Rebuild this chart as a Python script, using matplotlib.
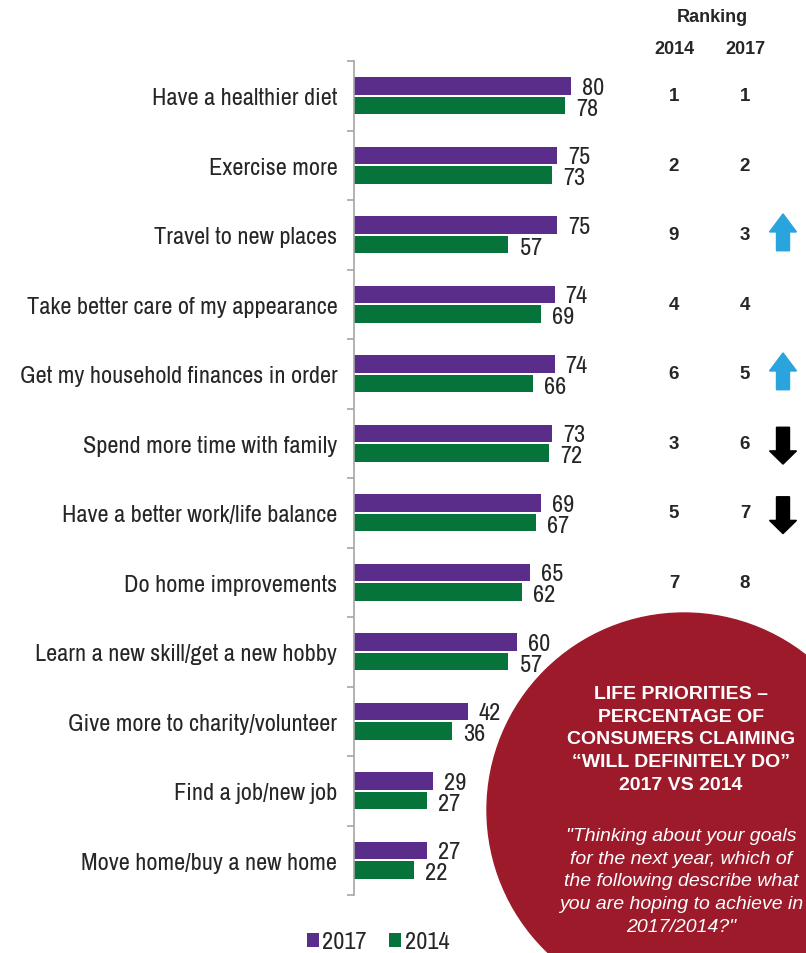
import matplotlib
matplotlib.use("Agg")
import matplotlib.pyplot as plt
import matplotlib.patches as mpatches
import matplotlib.transforms as mtransforms
from matplotlib import font_manager
import numpy as np

# ---- data ----
categories = [
    "Have a healthier diet",
    "Exercise more",
    "Travel to new places",
    "Take better care of my appearance",
    "Get my household finances in order",
    "Spend more time with family",
    "Have a better work/life balance",
    "Do home improvements",
    "Learn a new skill/get a new hobby",
    "Give more to charity/volunteer",
    "Find a job/new job",
    "Move home/buy a new home",
]
values_2017 = [80, 75, 75, 74, 74, 73, 69, 65, 60, 42, 29, 27]
values_2014 = [78, 73, 57, 69, 66, 72, 67, 62, 57, 36, 27, 22]
rank_2014 = [1, 2, 9, 4, 6, 3, 5, 7]
rank_2017 = [1, 2, 3, 4, 5, 6, 7, 8]
rank_moves = ["", "", "up", "", "up", "down", "down", ""]

title_text = ("LIFE PRIORITIES \u2013\nPERCENTAGE OF\nCONSUMERS CLAIMING\n"
              "\u201cWILL DEFINITELY DO\u201d\n2017 VS 2014")
question_text = ("\"Thinking about your goals\nfor the next year, which of\n"
                 "the following describe what\nyou are hoping to achieve in\n2017/2014?\"")

# ---- style ----
PURPLE = "#5b2d8a"
GREEN = "#05733a"
RED = "#9d1a2b"
BLUE = "#29a4dd"
TEXT = "#262626"

available = {f.name for f in font_manager.fontManager.ttflist}
narrow_choices = ["Liberation Sans Narrow", "Arial Narrow", "Archivo Narrow",
                  "PT Sans Narrow", "Roboto Condensed", "Arimo"]
narrow_font = next((f for f in narrow_choices if f in available), None)
if narrow_font is not None and narrow_font != "Arimo":
    NARROW = [narrow_font, "Liberation Sans"]
    LABEL_SIZE = 17.5
else:
    NARROW = ["Liberation Sans"]
    LABEL_SIZE = 14
BOLD = ["Liberation Sans", "DejaVu Sans"]

W, H = 806, 954
fig = plt.figure(figsize=(W / 100, H / 100), dpi=100)
fig.patch.set_facecolor("white")

ax_left, ax_right, ax_top, ax_bottom = 354, 625, 62, 896
ax = fig.add_axes([ax_left / W, 1 - ax_bottom / H, (ax_right - ax_left) / W, (ax_bottom - ax_top) / H])

y = np.arange(len(categories))
bar_h = 0.25
off = 0.14
ax.barh(y - off, values_2017, height=bar_h, color=PURPLE, label="2017")
ax.barh(y + off, values_2014, height=bar_h, color=GREEN, label="2014")

for yi, v in zip(y, values_2017):
    ax.annotate(str(v), (v, yi - off + 0.02), xytext=(8, 0), textcoords="offset points",
                ha="left", va="center", fontsize=LABEL_SIZE, family=NARROW, color=TEXT)
for yi, v in zip(y, values_2014):
    ax.annotate(str(v), (v, yi + off + 0.04), xytext=(8, 0), textcoords="offset points",
                ha="left", va="center", fontsize=LABEL_SIZE, family=NARROW, color=TEXT)

ax.set_xlim(0, 100)
ax.set_ylim(len(categories) - 0.5, -0.5)
for s in ["top", "right", "bottom"]:
    ax.spines[s].set_visible(False)
ax.spines["left"].set_color("#a6a6a6")
ax.spines["left"].set_linewidth(1.2)
ax.set_xticks([])
ax.set_yticks(np.arange(len(categories) + 1) - 0.5)
ax.set_yticklabels([])
ax.tick_params(axis="y", which="major", length=5, color="#a6a6a6", width=1.2)
ax.set_yticks(y, minor=True)
ax.set_yticklabels(categories, minor=True, fontsize=LABEL_SIZE, family=NARROW, color=TEXT)
ax.tick_params(axis="y", which="minor", length=0, pad=12)

# ---- ranking columns ----
blend = mtransforms.blended_transform_factory(fig.transFigure, ax.transData)
x14, x17, xarrow = 674 / W, 745 / W, 783 / W
fig.text(712 / W, 1 - 18 / H, "Ranking", ha="center", va="center", fontsize=13,
         fontweight="bold", family=BOLD, color=TEXT)
fig.text(x14, 1 - 50 / H, "2014", ha="center", va="center", fontsize=13,
         fontweight="bold", family=BOLD, color=TEXT)
fig.text(x17, 1 - 50 / H, "2017", ha="center", va="center", fontsize=13,
         fontweight="bold", family=BOLD, color=TEXT)
for i, (r14, r17) in enumerate(zip(rank_2014, rank_2017)):
    ax.text(x14, i, str(r14), transform=blend, ha="center", va="center", fontsize=13.5,
            fontweight="bold", family=BOLD, color=TEXT, clip_on=False)
    ax.text(x17, i, str(r17), transform=blend, ha="center", va="center", fontsize=13.5,
            fontweight="bold", family=BOLD, color=TEXT, clip_on=False)

hw, sw = 13.5 / W, 6.5 / W
for i, move in enumerate(rank_moves):
    if move == "up":
        pts = [(xarrow, i - 0.30), (xarrow + hw, i - 0.04), (xarrow + sw, i - 0.04),
               (xarrow + sw, i + 0.23), (xarrow - sw, i + 0.23), (xarrow - sw, i - 0.04),
               (xarrow - hw, i - 0.04)]
        color = BLUE
    elif move == "down":
        pts = [(xarrow, i + 0.30), (xarrow + hw, i + 0.11), (xarrow + sw, i + 0.11),
               (xarrow + sw, i - 0.23), (xarrow - sw, i - 0.23), (xarrow - sw, i + 0.11),
               (xarrow - hw, i + 0.11)]
        color = "black"
    else:
        continue
    ax.add_patch(mpatches.Polygon(pts, closed=True, transform=blend, color=color,
                                  clip_on=False, zorder=5))

# ---- red circle callout ----
cx, cy, r = 684, 811, 197
circle = mpatches.Ellipse((cx / W, 1 - cy / H), 2 * r / W, 2 * r / H,
                          transform=fig.transFigure, color=RED, zorder=10)
fig.add_artist(circle)
fig.text(681 / W, 1 - 740 / H, title_text, ha="center", va="center", fontsize=14,
         fontweight="bold", family=BOLD, color="white", linespacing=1.45, zorder=11)
fig.text(681 / W, 1 - 882 / H, question_text, ha="center", va="center", fontsize=14,
         style="italic", family=BOLD, color="white", linespacing=1.45, zorder=11)

# ---- legend ----
leg = fig.legend(loc="center", bbox_to_anchor=(378 / W, 1 - 943 / H), ncol=2, frameon=False,
                 handlelength=0.5, handleheight=0.5, handletextpad=0.15, columnspacing=0.9,
                 prop={"family": NARROW, "size": LABEL_SIZE})
for t in leg.get_texts():
    t.set_color(TEXT)

fig.savefig("out.png", dpi=100, facecolor="white")
